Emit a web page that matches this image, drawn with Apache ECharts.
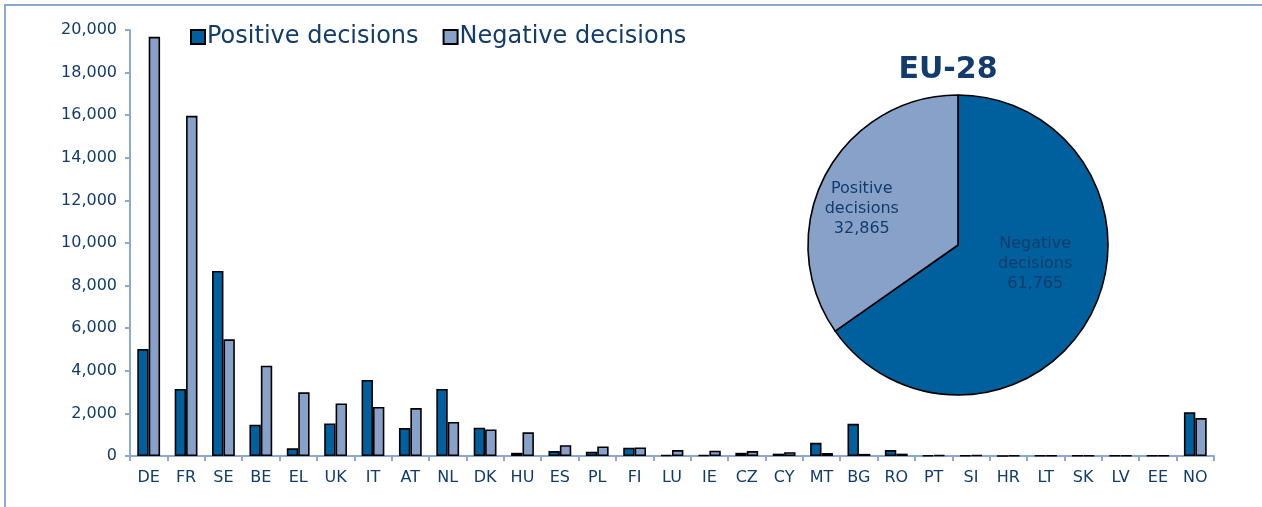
<!DOCTYPE html>
<html>
<head>
<meta charset="utf-8">
<script src="https://cdn.jsdelivr.net/npm/echarts@6/dist/echarts.min.js"></script>
<style>
  html, body { margin: 0; padding: 0; background: #fff; overflow: hidden; }
  #chart { position: absolute; left: 0; top: 0; width: 1262px; height: 507px; }
</style>
</head>
<body>
<div id="chart"></div>
<script>
var countries = ['DE', 'FR', 'SE', 'BE', 'EL', 'UK', 'IT', 'AT', 'NL', 'DK', 'HU', 'ES', 'PL', 'FI', 'LU',
  'IE', 'CZ', 'CY', 'MT', 'BG', 'RO', 'PT', 'SI', 'HR', 'LT', 'SK', 'LV', 'EE', 'NO'];
var positive = [5020, 3150, 8690, 1470, 360, 1530, 3570, 1310, 3150, 1330, 150, 230, 200, 390, 40,
  40, 150, 110, 620, 1510, 280, 30, 30, 5, 20, 20, 20, 20, 2050];
var negative = [19680, 15970, 5480, 4240, 2990, 2470, 2300, 2250, 1600, 1250, 1110, 510, 450, 400, 280,
  250, 230, 180, 140, 100, 110, 50, 40, 30, 30, 30, 25, 25, 1780];
var yTicks = [0, 2000, 4000, 6000, 8000, 10000, 12000, 14000, 16000, 18000, 20000];
var euTotals = [
  { name: 'Negative decisions', value: 61765 },
  { name: 'Positive decisions', value: 32865 }
];

var darkBlue = '#00609E';
var lightBlue = '#87A1C9';
var navy = '#123C6B';
var axisBlue = '#8FA8D2';
var font = 'DejaVu Sans';

function fmt(v) {
  return String(v).replace(/\B(?=(\d{3})+(?!\d))/g, ',');
}

var chart = echarts.init(document.getElementById('chart'), null, { renderer: 'canvas' });

var option = {
  animation: false,
  // light frame round the picture (top and left edges only are visible)
  graphic: [{
    type: 'polyline',
    silent: true,
    shape: { points: [[5, 520], [5, 5], [1270, 5]] },
    style: { stroke: axisBlue, lineWidth: 2, fill: null }
  }],
  title: {
    text: 'EU-28',
    left: 943,
    top: 50,
    textAlign: 'center',
    textStyle: { fontFamily: font, fontSize: 30, fontWeight: 'bold', color: navy }
  },
  legend: {
    left: 185,
    top: 20,
    itemWidth: 14,
    itemHeight: 14,
    itemGap: 24,
    icon: 'rect',
    data: ['Positive decisions', 'Negative decisions'],
    textStyle: { fontFamily: font, fontSize: 24, color: navy, padding: [0, 0, 0, -3] }
  },
  grid: { left: 130, right: 48, top: 30, bottom: 51, containLabel: false },
  xAxis: {
    type: 'category',
    data: countries,
    axisLine: { lineStyle: { color: axisBlue, width: 2 } },
    axisTick: { show: true, length: 5, lineStyle: { color: axisBlue, width: 2 } },
    axisLabel: { fontFamily: font, fontSize: 16, color: navy, margin: 14 }
  },
  yAxis: {
    type: 'value',
    min: 0,
    max: 20000,
    interval: 2000,
    splitLine: { show: false },
    axisLine: { show: true, lineStyle: { color: axisBlue, width: 2 } },
    axisTick: { show: true, length: 5, lineStyle: { color: axisBlue, width: 2 } },
    axisLabel: {
      fontFamily: font, fontSize: 16, color: navy, margin: 13,
      formatter: function (v) { return yTicks.indexOf(v) >= 0 ? fmt(v) : ''; }
    }
  },
  series: [
    {
      name: 'Positive decisions',
      type: 'bar',
      data: positive,
      barGap: '0%',
      barCategoryGap: '39%',
      itemStyle: { color: darkBlue, borderColor: '#000', borderWidth: 1.6 }
    },
    {
      name: 'Negative decisions',
      type: 'bar',
      data: negative,
      itemStyle: { color: lightBlue, borderColor: '#000', borderWidth: 1.6 }
    },
    {
      name: 'EU-28',
      type: 'pie',
      center: [958, 245],
      radius: 150,
      startAngle: 90,
      clockwise: true,
      legendHoverLink: false,
      color: [darkBlue, lightBlue],
      itemStyle: { borderColor: '#000', borderWidth: 1.6 },
      label: {
        position: 'inside',
        fontFamily: font,
        fontSize: 16,
        lineHeight: 20,
        color: navy,
        formatter: function (p) {
          return p.name.replace(' ', '\n') + '\n' + fmt(p.value);
        }
      },
      labelLine: { show: false },
      emphasis: { disabled: true },
      data: [
        { name: euTotals[0].name, value: euTotals[0].value, label: { padding: [0, 0, 0, 16], offset: [0, -17] } },
        { name: euTotals[1].name, value: euTotals[1].value, label: { padding: [0, 54, 0, 0] } }
      ]
    }
  ]
};

chart.setOption(option);
window.addEventListener('resize', chart.resize);
</script>
</body>
</html>
